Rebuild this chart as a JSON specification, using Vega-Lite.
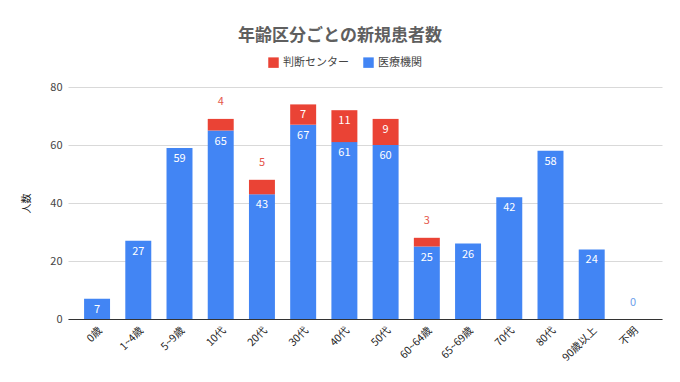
{
  "$schema": "https://vega.github.io/schema/vega-lite/v6.json",
  "autosize": "none",
  "width": 594,
  "height": 232,
  "padding": {"left": 68, "top": 87, "right": 18, "bottom": 63},
  "background": "white",
  "config": {
    "font": "Noto Sans CJK JP",
    "view": {"stroke": null},
    "axis": {"labelFont": "Noto Sans CJK JP", "titleFont": "Noto Sans CJK JP"},
    "legend": {"labelFont": "Noto Sans CJK JP"}
  },
  "title": {
    "text": "年齢区分ごとの新規患者数",
    "anchor": "middle",
    "dx": -25,
    "offset": 12,
    "fontSize": 17,
    "fontWeight": "bold",
    "color": "#5f5f5f"
  },
  "data": {
    "values": [
      {"cat": "0歳", "series": "医療機関", "n": 7},
      {"cat": "1~4歳", "series": "医療機関", "n": 27},
      {"cat": "5~9歳", "series": "医療機関", "n": 59},
      {"cat": "10代", "series": "医療機関", "n": 65},
      {"cat": "20代", "series": "医療機関", "n": 43},
      {"cat": "30代", "series": "医療機関", "n": 67},
      {"cat": "40代", "series": "医療機関", "n": 61},
      {"cat": "50代", "series": "医療機関", "n": 60},
      {"cat": "60~64歳", "series": "医療機関", "n": 25},
      {"cat": "65~69歳", "series": "医療機関", "n": 26},
      {"cat": "70代", "series": "医療機関", "n": 42},
      {"cat": "80代", "series": "医療機関", "n": 58},
      {"cat": "90歳以上", "series": "医療機関", "n": 24},
      {"cat": "不明", "series": "医療機関", "n": 0},
      {"cat": "10代", "series": "判断センター", "n": 4},
      {"cat": "20代", "series": "判断センター", "n": 5},
      {"cat": "30代", "series": "判断センター", "n": 7},
      {"cat": "40代", "series": "判断センター", "n": 11},
      {"cat": "50代", "series": "判断センター", "n": 9},
      {"cat": "60~64歳", "series": "判断センター", "n": 3}
    ]
  },
  "transform": [
    {"stack": "n", "groupby": ["cat"], "sort": [{"field": "series", "order": "descending"}], "as": ["y0", "y1"]}
  ],
  "encoding": {
    "x": {
      "field": "cat",
      "type": "nominal",
      "sort": ["0歳", "1~4歳", "5~9歳", "10代", "20代", "30代", "40代", "50代", "60~64歳", "65~69歳", "70代", "80代", "90歳以上", "不明"],
      "scale": {"paddingInner": 0.37, "paddingOuter": 0.39},
      "axis": {
        "title": null,
        "labelAngle": -45,
        "labelFontSize": 10.5,
        "labelColor": "#222222",
        "ticks": false,
        "domainColor": "#333333",
        "domainWidth": 1,
        "labelPadding": 6
      }
    },
    "y": {
      "field": "y1",
      "type": "quantitative",
      "scale": {"domain": [0, 80]},
      "axis": {
        "title": "人数",
        "titleFontSize": 10,
        "titleFontWeight": "normal",
        "titleColor": "#222222",
        "titlePadding": 18,
        "values": [0, 20, 40, 60, 80],
        "labelFontSize": 11,
        "labelColor": "#444444",
        "labelPadding": 6,
        "ticks": false,
        "domain": false,
        "gridColor": "#d9d9d9"
      }
    }
  },
  "layer": [
    {
      "mark": {"type": "bar"},
      "encoding": {
        "y2": {"field": "y0"},
        "color": {
          "field": "series",
          "type": "nominal",
          "scale": {"domain": ["判断センター", "医療機関"], "range": ["#ea4335", "#4285f4"]},
          "legend": {
            "title": null,
            "orient": "none",
            "direction": "horizontal",
            "legendX": 200,
            "legendY": -30,
            "symbolType": "square",
            "symbolSize": 110,
            "symbolStrokeWidth": 0,
            "labelFontSize": 11,
            "labelColor": "#444444",
            "columnPadding": 14
          }
        }
      }
    },
    {
      "transform": [{"filter": "datum.series == '医療機関' && datum.n > 0"}],
      "mark": {"type": "text", "baseline": "middle", "dy": 11, "fontSize": 11, "color": "white"},
      "encoding": {"text": {"field": "n", "type": "quantitative"}}
    },
    {
      "transform": [{"filter": "datum.series == '医療機関' && datum.n == 0"}],
      "mark": {"type": "text", "baseline": "middle", "dy": -16, "fontSize": 11, "color": "#6d9eeb"},
      "encoding": {"text": {"field": "n", "type": "quantitative"}}
    },
    {
      "transform": [{"filter": "datum.series == '判断センター' && datum.n >= 7"}],
      "mark": {"type": "text", "baseline": "middle", "dy": 11, "fontSize": 11, "color": "white"},
      "encoding": {"text": {"field": "n", "type": "quantitative"}}
    },
    {
      "transform": [{"filter": "datum.series == '判断センター' && datum.n > 0 && datum.n < 7"}],
      "mark": {"type": "text", "baseline": "middle", "dy": -17, "fontSize": 11, "color": "#e5554a"},
      "encoding": {"text": {"field": "n", "type": "quantitative"}}
    }
  ]
}
